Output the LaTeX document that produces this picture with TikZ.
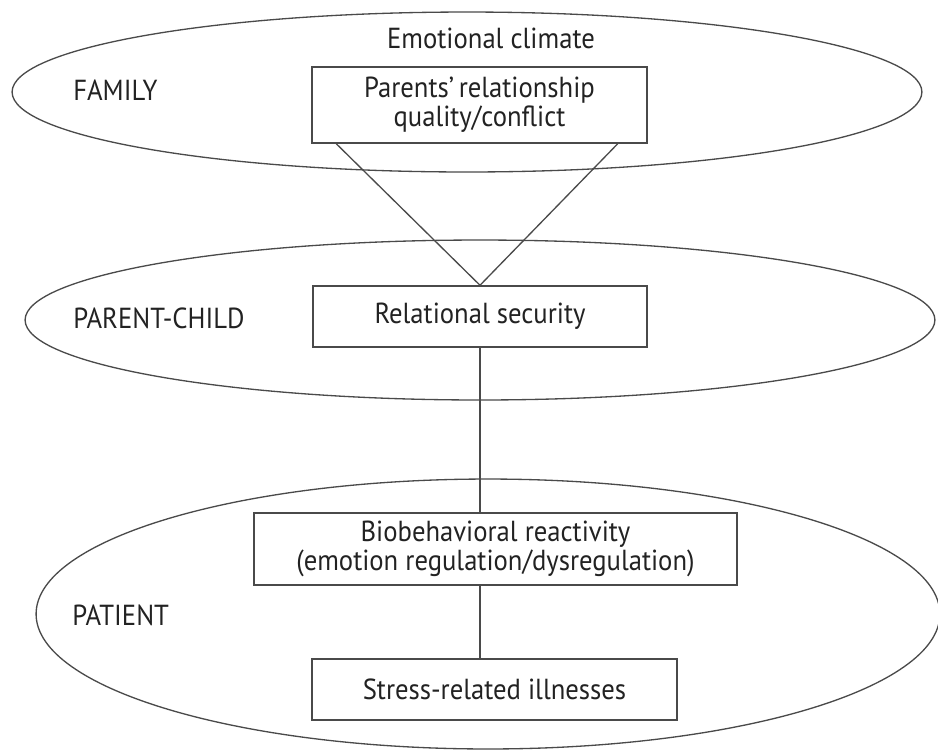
\documentclass[tikz,border=0pt]{standalone}
\usepackage{fontspec}
\setmainfont[FakeStretch=0.92]{PT Sans}
\usepackage{tikz}
\usetikzlibrary{shapes.geometric}
\definecolor{linegray}{HTML}{4A4A4A}
\definecolor{textgray}{HTML}{222222}

\begin{document}
\begin{tikzpicture}[x=0.02cm,y=-0.02cm,
  every node/.style={text=textgray,font=\fontsize{16.5}{16.6}\selectfont,inner sep=0pt,align=center},
  level/.style={ellipse,draw=linegray,line width=0.75pt},
  factor/.style={rectangle,draw=linegray,line width=0.85pt},
  tag/.style={anchor=west}]
  \useasboundingbox (0,0) rectangle (938,752);

  \node[level,minimum width=18.2cm,minimum height=3.2cm] (family) at (467,92) {};
  \node[level,minimum width=18.2cm,minimum height=3.2cm] (parchild) at (480,320) {};
  \node[level,minimum width=18.08cm,minimum height=5.4cm] (patient) at (488,614) {};

  \node (climate) at (491,38) {Emotional climate};
  \node[tag] (famtag) at (73,90) {FAMILY};
  \node[tag] (pctag) at (73,318) {PARENT-CHILD};
  \node[tag] (pattag) at (72,615) {PATIENT};

  \node[factor,minimum width=6.7cm,minimum height=1.52cm] (quality) at (479.5,105) {Parents'\,relationship\\quality/conflict};
  \node[factor,minimum width=6.68cm,minimum height=1.22cm] (security) at (480,316.5) {Relational security};
  \node[factor,minimum width=9.66cm,minimum height=1.44cm] (reactivity) at (495.5,549) {Biobehavioral reactivity\\(emotion regulation/dysregulation)};
  \node[factor,minimum width=7.3cm,minimum height=1.22cm] (illness) at (494.5,689.5) {Stress-related illnesses};

  \draw[linegray,line width=0.75pt] ([xshift=0.5cm]quality.south west) -- (security.north) -- ([xshift=-0.6cm]quality.south east);
  \draw[linegray,line width=0.75pt] (security.south) -- (security.south |- reactivity.north);
  \draw[linegray,line width=0.75pt] (security.south |- reactivity.south) -- (security.south |- illness.north);
\end{tikzpicture}
\end{document}
